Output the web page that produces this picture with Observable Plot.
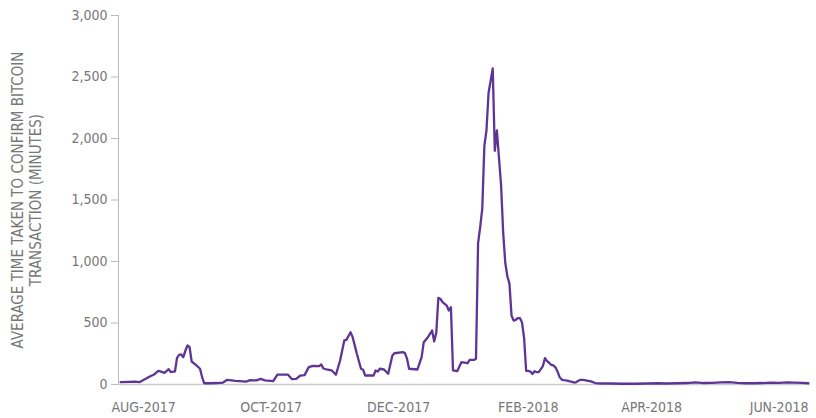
<!DOCTYPE html>
<html>
<head>
<meta charset="utf-8">
<script src="https://cdn.jsdelivr.net/npm/d3@7"></script>
<script src="https://cdn.jsdelivr.net/npm/@observablehq/plot@0.6"></script>
<style>
  html, body { margin: 0; padding: 0; background: #fff; }
  #chart svg { display: block; }
</style>
</head>
<body>
<div id="chart"></div>
<script>
const dates = [
  "2017-07-21","2017-07-25","2017-07-28","2017-07-30","2017-08-02","2017-08-04","2017-08-06","2017-08-08","2017-08-09","2017-08-11",
  "2017-08-13","2017-08-14","2017-08-16","2017-08-17","2017-08-18","2017-08-19","2017-08-20","2017-08-21","2017-08-22","2017-08-23",
  "2017-08-24","2017-08-26","2017-08-28","2017-08-29","2017-08-30","2017-09-02","2017-09-05","2017-09-08","2017-09-10","2017-09-14",
  "2017-09-19","2017-09-21","2017-09-24","2017-09-26","2017-09-28","2017-10-02","2017-10-04","2017-10-09","2017-10-11","2017-10-13",
  "2017-10-15","2017-10-17","2017-10-19","2017-10-21","2017-10-24","2017-10-25","2017-10-26","2017-10-28","2017-10-30","2017-11-01",
  "2017-11-03","2017-11-05","2017-11-06","2017-11-08","2017-11-09","2017-11-11","2017-11-13","2017-11-14","2017-11-15","2017-11-19",
  "2017-11-20","2017-11-21","2017-11-22","2017-11-24","2017-11-26","2017-11-28","2017-11-29","2017-12-03","2017-12-04","2017-12-05",
  "2017-12-06","2017-12-10","2017-12-12","2017-12-13","2017-12-15","2017-12-17","2017-12-18","2017-12-19","2017-12-20","2017-12-21",
  "2017-12-22","2017-12-24","2017-12-25","2017-12-26","2017-12-27","2017-12-29","2017-12-31","2018-01-03","2018-01-04","2018-01-06",
  "2018-01-07","2018-01-08","2018-01-09","2018-01-10","2018-01-11","2018-01-12","2018-01-13","2018-01-14","2018-01-15","2018-01-16",
  "2018-01-17","2018-01-18","2018-01-19","2018-01-20","2018-01-21","2018-01-22","2018-01-23","2018-01-24","2018-01-25","2018-01-26",
  "2018-01-27","2018-01-28","2018-01-29","2018-01-30","2018-01-31","2018-02-01","2018-02-02","2018-02-03","2018-02-04","2018-02-05",
  "2018-02-06","2018-02-07","2018-02-08","2018-02-09","2018-02-10","2018-02-11","2018-02-12","2018-02-13","2018-02-14","2018-02-15",
  "2018-02-16","2018-02-17","2018-02-18","2018-02-19","2018-02-20","2018-02-21","2018-02-22","2018-02-23","2018-02-24","2018-02-25",
  "2018-02-26","2018-02-27","2018-02-28","2018-03-01","2018-03-03","2018-03-05","2018-03-08","2018-03-12","2018-03-18","2018-03-24",
  "2018-03-30","2018-04-04","2018-04-08","2018-04-14","2018-04-18","2018-04-22","2018-04-26","2018-04-30","2018-05-04","2018-05-08",
  "2018-05-12","2018-05-16","2018-05-20","2018-05-24","2018-05-28","2018-06-01","2018-06-05","2018-06-08","2018-06-12","2018-06-15"
];
const minutes = [
  20, 22, 23, 19, 46, 65, 81, 111, 106, 95,
  124, 100, 106, 217, 241, 244, 222, 276, 317, 303,
  187, 160, 128, 59, 10, 10, 12, 16, 38, 30,
  24, 35, 33, 46, 33, 27, 81, 81, 43, 46,
  73, 76, 141, 152, 149, 163, 130, 120, 114, 79,
  195, 358, 363, 425, 385, 250, 128, 120, 73, 73,
  114, 106, 128, 122, 87, 236, 254, 263, 255, 210,
  128, 122, 222, 344, 385, 439, 350, 420, 705, 695,
  670, 642, 602, 628, 114, 108, 181, 173, 201, 200,
  210, 1150, 1280, 1430, 1940, 2065, 2370, 2470, 2570, 1900,
  2065, 1840, 1620, 1235, 990, 880, 820, 560, 520, 525,
  540, 540, 505, 380, 110, 110, 105, 85, 108, 100,
  100, 125, 150, 215, 190, 175, 160, 155, 140, 105,
  60, 40, 35, 33, 30, 25, 22, 16, 20, 30,
  38, 38, 35, 32, 25, 12, 8, 8, 6, 6,
  8, 10, 8, 10, 12, 18, 12, 14, 18, 20,
  14, 10, 10, 12, 16, 14, 18, 16, 14, 10
];
const xDomain = ["2017-07-20", "2018-06-16"];
const xTicks = ["2017-08-01", "2017-10-01", "2017-12-01", "2018-02-01", "2018-04-01", "2018-06-01"];
const yTicks = [0, 500, 1000, 1500, 2000, 2500, 3000];
const yTitle = "AVERAGE TIME TAKEN TO CONFIRM BITCOIN\nTRANSACTION (MINUTES)";

const data = dates.map((d, i) => ({date: new Date(d), value: minutes[i]}));
const fmtMonth = d3.utcFormat("%b-%Y");
const FONT = "'Liberation Sans Narrow', 'DejaVu Sans Condensed', 'Roboto Condensed', Roboto, sans-serif";

const chart = Plot.plot({
  width: 816,
  height: 418,
  marginLeft: 118,
  marginRight: 6,
  marginTop: 15,
  marginBottom: 34,
  style: {fontFamily: FONT, fontSize: "14px", color: "#777", background: "#fff"},
  x: {type: "utc", domain: xDomain.map(d => new Date(d))},
  y: {domain: [0, 3000]},
  marks: [
    Plot.axisY({ticks: yTicks, tickSize: 7, tickPadding: 4, tickFormat: d3.format(","), label: null, stroke: "#bbb", fill: "#777"}),
    Plot.axisX({ticks: xTicks.map(d => new Date(d)), tickSize: 0, tickPadding: 18, tickFormat: d => fmtMonth(d).toUpperCase(), label: null, fill: "#777"}),
    Plot.ruleX([new Date(xDomain[0])], {stroke: "#bbb", strokeWidth: 1}),
    Plot.ruleY([0], {stroke: "#ccc", strokeWidth: 1.5}),
    Plot.line(data, {x: "date", y: "value", stroke: "#5e3595", strokeWidth: 2.3, curve: "linear"}),
    Plot.text([yTitle], {frameAnchor: "left", textAnchor: "middle", rotate: -90, dx: -92, lineHeight: 1.15, fill: "#777", fontSize: 15})
  ]
});
document.getElementById("chart").appendChild(chart);
</script>
</body>
</html>
